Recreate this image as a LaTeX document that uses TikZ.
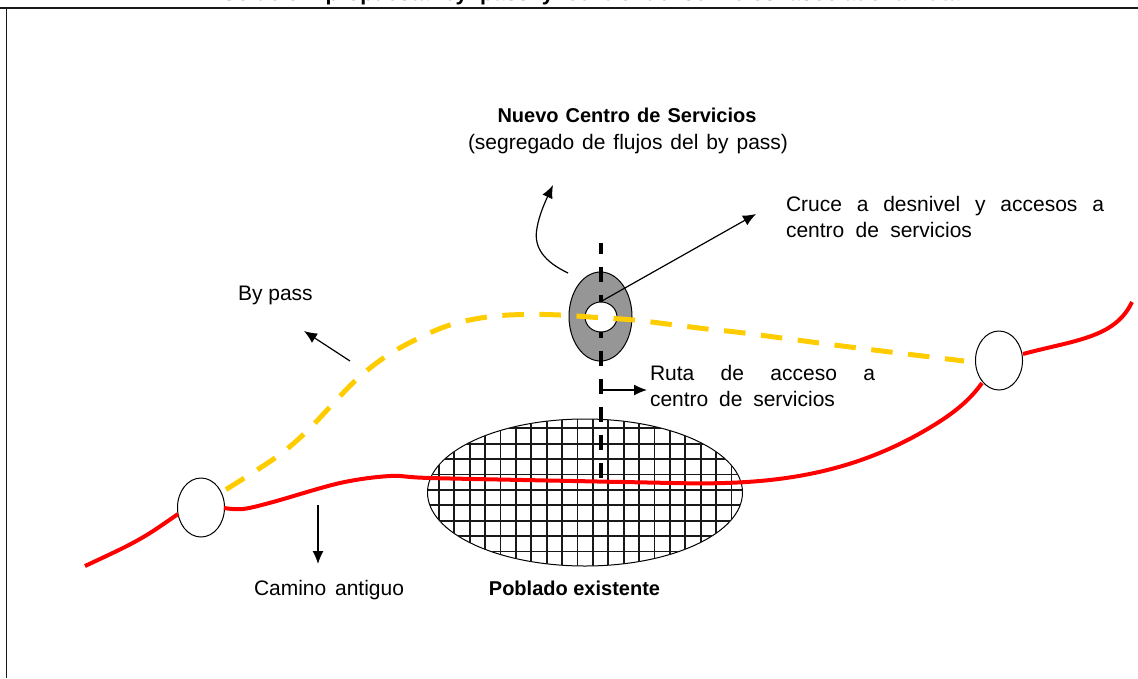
\documentclass[tikz,border=0pt]{standalone}
\usepackage{fontspec}
\setmainfont{Liberation Sans}
\usetikzlibrary{shapes.geometric,arrows.meta}
\definecolor{roadred}{HTML}{FF0000}
\definecolor{bypassy}{HTML}{FFCC00}
\definecolor{ovalgray}{HTML}{969696}
\newcommand{\fitw}[2]{\makebox[#1pt][s]{#2}}
\tikzset{
  x=1pt,y=-1pt,
  txt/.style={inner sep=0pt,outer sep=0pt,font=\fontsize{21}{25.5}\selectfont,align=left,anchor=base west},
  txtc/.style={txt,anchor=base,align=center},
  txtb/.style={txtc,font=\fontsize{20}{25}\bfseries\selectfont},
  junction/.style={ellipse,draw=black,line width=1pt,fill=white,inner sep=0pt,minimum width=47pt,minimum height=59pt},
  road/.style={draw=roadred,line width=4pt},
  bypassline/.style={draw=bypassy,line width=5pt,dash pattern=on 21.5pt off 15.6pt},
  access/.style={draw=black,line width=4pt,dash pattern=on 15pt off 13pt,dash phase=4pt},
  pointer/.style={draw=black,line width=1.2pt,-{Latex[length=13pt,width=11pt]}},
  gridline/.style={draw=black!90,line width=1.8pt}
}
\begin{document}
\begin{tikzpicture}
\useasboundingbox (0,0) rectangle (1138,678);
% frame
\coordinate (fTL) at (6.5,7.5);
\coordinate (fTR) at (1138,7.5);
\coordinate (fBL) at (6.5,678);
\coordinate (fT0) at (0,7.5);
\draw[line width=2pt,black!90] (fT0) -- (fTR);
\draw[line width=1.2pt,black!90] (fTL) -- (fBL);
% clipped title
\begin{scope}
\clip (0,0) rectangle (1138,7);
\node[inner sep=0pt,anchor=base west,font=\fontsize{21.5}{22}\bfseries\selectfont] (title) at (222,0.8) {\fitw{738}{Solución propuesta by pass y centro de servicios asociado a ruta}};
\end{scope}
% town
\node[ellipse,draw=black,line width=1pt,inner sep=0pt,minimum width=315pt,minimum height=147pt] (town) at (585,492.5) {};
\begin{scope}
\clip (585,492.5) ellipse [x radius=157.5,y radius=73.5];
\foreach \i in {0,...,19} \draw[gridline] ({439+15.39*\i},415) -- ({439+15.39*\i},570);
\foreach \i in {0,...,9} \draw[gridline] (420,{428.3+15.4*\i}) -- (750,{428.3+15.4*\i});
\end{scope}
% service centre
\node[ellipse,draw=black,line width=1pt,fill=ovalgray,inner sep=0pt,minimum width=63pt,minimum height=89pt] (oval) at (600.5,316.5) {};
\coordinate (accN) at (600.5,243);
\coordinate (accS) at (600.5,478);
\draw[access] (accN) -- (accS);
\node[ellipse,draw=black,line width=1pt,fill=white,inner sep=0pt,minimum width=32pt,minimum height=30pt] (hole) at (601,317) {};
% junctions
\node[junction] (jl) at (201,507.5) {};
\node[junction] (jr) at (999,360.5) {};
% red road
\coordinate (rs) at (85,566);
\coordinate (re) at (1132,302);
\draw[road] plot[smooth,tension=0.55] coordinates {(rs) (125,547) (150,533) (178,514)};
\draw[road] plot[smooth,tension=0.55] coordinates {(224,508) (243,509) (273,502) (340,483) (390,476) (430,478) (573,481) (673,483)} .. controls (760,485) and (850,480) .. (942,420) .. controls (960,408) and (972,397) .. (982,383);
\draw[road] (1023,354) .. controls (1075,340) and (1115,338) .. (re);
% by pass
\coordinate (bs) at (226,489.5);
\coordinate (be) at (964,361);
\draw[bypassline] plot[smooth,tension=0.6] coordinates {(bs) (275,458) (304,434) (330,407) (356,380) (385,357) (417,339) (450,325) (487,317) (523,314.5) (560,315) (597,317.5) (634,320) (671,324.5) (707,329) (744,333) (850,347) (be)};
% pointers
\coordinate (c1s) at (568,273);
\coordinate (c1e) at (553,185);
\draw[pointer] (c1s) .. controls (545,262) and (533,248) .. (537,228) .. controls (539,215) and (546,200) .. (c1e);
\coordinate (c2e) at (756,214);
\draw[pointer] (hole.north) -- (c2e);
\coordinate (c3s) at (350,361);
\coordinate (c3e) at (304,331);
\draw[pointer] (c3s) -- (c3e);
\coordinate (c4s) at (601,390);
\coordinate (c4e) at (647,390);
\draw[pointer] (c4s) -- (c4e);
\coordinate (c5s) at (318,505);
\coordinate (c5e) at (318,564);
\draw[pointer] (c5s) -- (c5e);
% labels
\node[txtb] (nuevo) at (627,122.7) {\fitw{259}{Nuevo Centro de Servicios}};
\node[txtc] (segreg) at (628,149.5) {\fitw{320}{(segregado de flujos del by pass)}};
\node[txt] (cruce) at (786,237) {\fitw{318}{Cruce a desnivel y accesos a}\\\fitw{186}{centro de servicios}};
\node[txt] (bypass) at (238,300) {By pass};
\node[txt] (ruta) at (650,406) {\fitw{225}{Ruta de acceso a}\\\fitw{185}{centro de servicios}};
\node[txt] (camino) at (254,595) {\fitw{150}{Camino antiguo}};
\node[txtb] (poblado) at (574.5,595) {Poblado existente};
\end{tikzpicture}
\end{document}
